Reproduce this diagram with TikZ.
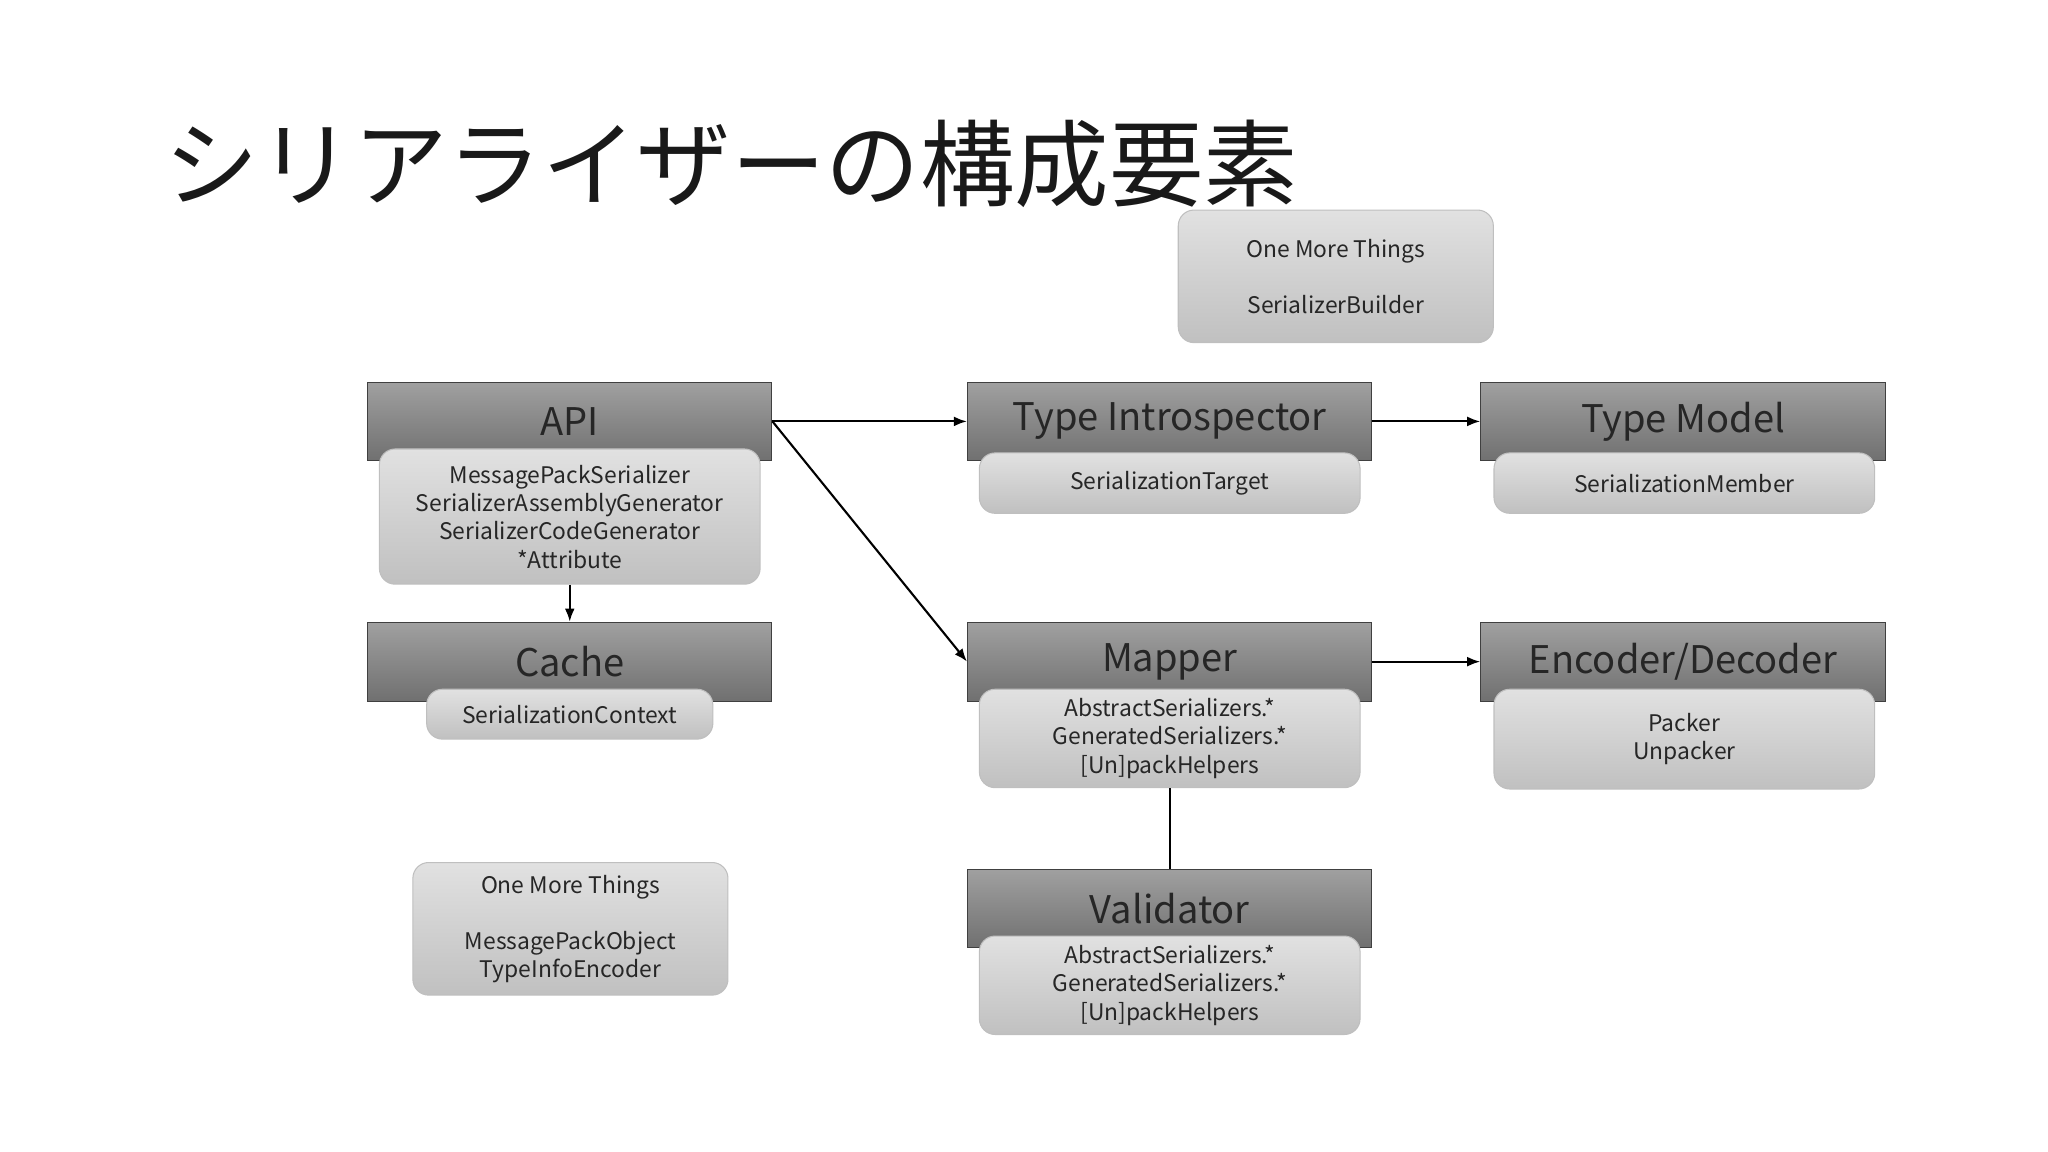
\documentclass[tikz,border=0pt]{standalone}
\usepackage{fontspec}
\setmainfont{Noto Sans CJK JP}
\usetikzlibrary{arrows.meta,positioning}
\definecolor{hdrTop}{RGB}{160,160,160}
\definecolor{hdrBot}{RGB}{112,112,112}
\definecolor{subTop}{RGB}{225,225,225}
\definecolor{subBot}{RGB}{192,192,192}
\tikzset{
  hdr/.style={draw=black!75, top color=hdrTop, bottom color=hdrBot, minimum width=154pt, minimum height=30pt, inner sep=0pt, font=\fontsize{14.5}{16}\selectfont, text=black!85},
  sub/.style={draw=black!25, rounded corners=6pt, top color=subTop, bottom color=subBot, inner sep=0pt, align=center, font=\fontsize{8.7}{10.8}\selectfont, text=black!85},
  link/.style={thick, -{Latex[length=5pt]}}
}
\begin{document}
\begin{tikzpicture}[x=0.5pt, y=-0.5pt]
  \useasboundingbox (0,0) rectangle (1560,877.5);
  \node[anchor=west, font=\fontsize{36}{40}\selectfont\addfontfeatures{}, text=black!90] (title) at (118,125) {シリアライザーの構成要素};

  % headers
  \node[hdr] (api) at (434,321) {API};
  \node[hdr] (cache) at (434,504) {Cache};
  \node[hdr] (intro) at (891,321) {Type Introspector};
  \node[hdr] (model) at (1282,321) {Type Model};
  \node[hdr] (mapper) at (891,504) {Mapper};
  \node[hdr] (codec) at (1282,504) {Encoder/Decoder};
  \node[hdr] (valid) at (891,692) {Validator};

  % contents
  \node[sub, minimum width=145pt, minimum height=51.5pt] (apiSub) at (434,393.5) {MessagePackSerializer\\SerializerAssemblyGenerator\\SerializerCodeGenerator\\*Attribute};
  \node[sub, minimum width=109pt, minimum height=19pt] (cacheSub) at (434,544) {SerializationContext};
  \node[sub, minimum width=145pt, minimum height=23pt] (introSub) at (891,368) {SerializationTarget};
  \node[sub, minimum width=145pt, minimum height=23pt] (modelSub) at (1283,368) {SerializationMember};
  \node[sub, minimum width=145pt, minimum height=37.5pt] (mapperSub) at (891,562.5) {AbstractSerializers.*\\GeneratedSerializers.*\\{[Un]}packHelpers};
  \node[sub, minimum width=145pt, minimum height=38pt] (codecSub) at (1283,563) {Packer\\Unpacker};
  \node[sub, minimum width=145pt, minimum height=37.5pt] (validSub) at (891,750.5) {AbstractSerializers.*\\GeneratedSerializers.*\\{[Un]}packHelpers};
  \node[sub, minimum width=120pt, minimum height=50.5pt] (moreTop) at (1017.5,210.5) {One More Things\\[10.5pt]SerializerBuilder};
  \node[sub, minimum width=120pt, minimum height=50.5pt] (moreBot) at (434.5,707.5) {One More Things\\[10.5pt]MessagePackObject\\TypeInfoEncoder};

  % connectors
  \draw[link] (api.east) -- (intro.west);
  \draw[link] (api.east) -- (mapper.west);
  \draw[link] (intro.east) -- (model.west);
  \draw[link] (mapper.east) -- (codec.west);
  \draw[link] (apiSub.south) -- (cache.north);
  \draw[thick] (mapperSub.south) -- (valid.north);
\end{tikzpicture}
\end{document}
